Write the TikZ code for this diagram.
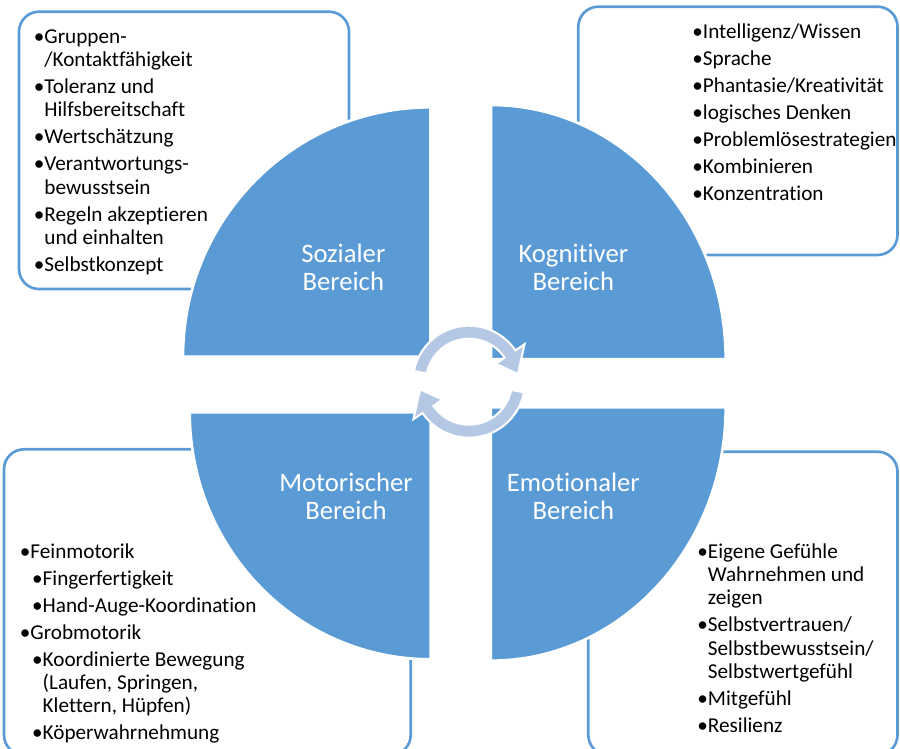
\documentclass[tikz,border=0pt]{standalone}
\usepackage{fontspec}
\setmainfont[Ligatures={NoCommon}]{Carlito}
\usepackage{tikz}
\usetikzlibrary{positioning}
\newcommand{\bul}{\makebox[8pt][l]{\textbullet}}
\newcommand{\ein}{\hspace*{8pt}}
\newcommand{\zwei}{\hspace*{9.2pt}}
\newcommand{\pg}{2.75pt}

\begin{document}
\begin{tikzpicture}[x=0.75pt,y=0.75pt,yscale=-1,xscale=1,
	box/.style={draw={rgb, 255:red, 91; green, 155; blue, 213}, line width=2, fill=white, rounded corners=15pt},
	quad/.style={fill={rgb, 255:red, 91; green, 155; blue, 213}, draw=white, line width=2},
	ring/.style={fill={rgb, 255:red, 180; green, 200; blue, 230}, draw=white, line width=1.5},
	lbl/.style={inner sep=0, anchor=base, text=white, font=\fontsize{20}{21.3}\selectfont},
	liste/.style={inner sep=0, anchor=base west, font=\fontsize{15.9}{17.5}\selectfont}]
		\useasboundingbox (0,0) rectangle (900,749);
		\clip (0,0) rectangle (900,749);

		%Shape: Rounded Rect
		\draw [box] (19,11.7) rectangle (349,289);
		%Shape: Rounded Rect
		\draw [box] (578.3,6.7) rectangle (897.5,255);
		%Shape: Rounded Rect
		\draw [box] (4,449.3) rectangle (410.7,755);
		%Shape: Rounded Rect
		\draw [box] (588.3,451.7) rectangle (897.5,755);

		%Shape: Pie
		\draw [quad] (430.5,356.7) -- (183,356.7) arc [start angle=180, end angle=270, x radius=247.5, y radius=249.4] -- cycle;
		%Shape: Pie
		\draw [quad] (491,359.3) -- (725.7,359.3) arc [start angle=0, end angle=-90, x radius=234.7, y radius=254.3] -- cycle;
		%Shape: Pie
		\draw [quad] (430.7,412.3) -- (189.7,412.3) arc [start angle=180, end angle=90, x radius=241, y radius=247] -- cycle;
		%Shape: Pie
		\draw [quad] (490.7,407.3) -- (725.7,407.3) arc [start angle=0, end angle=90, x radius=235, y radius=253.4] -- cycle;

		\begin{scope}[shift={(469,381.7)}]
		%Shape: Circular Arrow
		\draw [ring] (-169:56) arc [start angle=-169, end angle=-34, radius=56] -- (-34:67) -- (-9:49.5) -- (-34:32) -- (-34:43) arc [start angle=-34, end angle=-169, radius=43] -- cycle;
		%Shape: Circular Arrow
		\draw [ring] (11:56) arc [start angle=11, end angle=146, radius=56] -- (146:67) -- (171:49.5) -- (146:32) -- (146:43) arc [start angle=146, end angle=11, radius=43] -- cycle;
		\end{scope}

		% Text Node
		\node [lbl] (sozial) at (343.3,262) {\begin{tabular}[t]{@{}c@{}}Sozialer\\Bereich\end{tabular}};
		% Text Node
		\node [lbl] (kognitiv) at (573.3,262) {\begin{tabular}[t]{@{}c@{}}Kognitiver\\Bereich\end{tabular}};
		% Text Node
		\node [lbl] (motorik) at (346,491) {\begin{tabular}[t]{@{}c@{}}Motorischer\\Bereich\end{tabular}};
		% Text Node
		\node [lbl] (emotional) at (573.3,491) {\begin{tabular}[t]{@{}c@{}}Emotionaler\\Bereich\end{tabular}};

		% Text Node
		\node [liste] (sozialliste) at (33.5,43.3) {\begin{tabular}[t]{@{}l@{}}
			\bul Gruppen-\\
			\ein /Kontaktfähigkeit\\[\pg]
			\bul Toleranz und\\
			\ein Hilfsbereitschaft\\[\pg]
			\bul Wertschätzung\\[\pg]
			\bul Verantwortungs-\\
			\ein bewusstsein\\[\pg]
			\bul Regeln akzeptieren\\
			\ein und einhalten\\[\pg]
			\bul Selbstkonzept
		\end{tabular}};
		% Text Node
		\node [liste] (kognitivliste) at (692,38.3) {\begin{tabular}[t]{@{}l@{}}
			\bul Intelligenz/Wissen\\[\pg]
			\bul Sprache\\[\pg]
			\bul Phantasie/Kreativität\\[\pg]
			\bul logisches Denken\\[\pg]
			\bul Problemlösestrategien\\[\pg]
			\bul Kombinieren\\[\pg]
			\bul Konzentration
		\end{tabular}};
		% Text Node
		\node [liste] (motorikliste) at (19.5,558.3) {\begin{tabular}[t]{@{}l@{}}
			\bul Feinmotorik\\[\pg]
			\zwei\bul Fingerfertigkeit\\[\pg]
			\zwei\bul Hand-Auge-Koordination\\[\pg]
			\bul Grobmotorik\\[\pg]
			\zwei\bul Koordinierte Bewegung\\
			\zwei\ein (Laufen, Springen,\\
			\zwei\ein Klettern, Hüpfen)\\[\pg]
			\zwei\bul Köperwahrnehmung
		\end{tabular}};
		% Text Node
		\node [liste] (emotionalliste) at (697,558.3) {\begin{tabular}[t]{@{}l@{}}
			\bul Eigene Gefühle\\
			\ein Wahrnehmen und\\
			\ein zeigen\\[\pg]
			\bul Selbstvertrauen/\\
			\ein Selbstbewusstsein/\\
			\ein Selbstwertgefühl\\[\pg]
			\bul Mitgefühl\\[\pg]
			\bul Resilienz
		\end{tabular}};

\end{tikzpicture}
\end{document}
